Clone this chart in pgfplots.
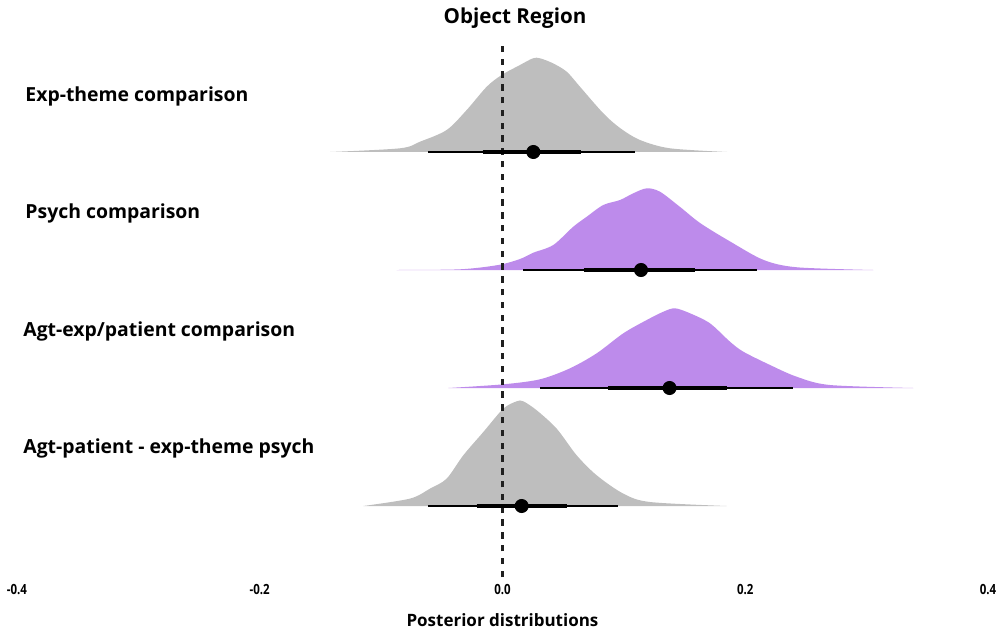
\documentclass[border=0pt]{standalone}
\usepackage{fontspec}
\setmainfont{Open Sans}
\newfontfamily\condfont[FakeStretch=0.82]{Open Sans}
\usepackage{pgfplots}
\pgfplotsset{compat=1.18}
\usepackage{pgfplotstable}

\definecolor{slabgray}{HTML}{BEBEBE}
\definecolor{slabpurple}{HTML}{BD8BEB}

% posterior density slabs: x = effect, h = slab height above its row baseline
\pgfplotstableread{
x h
-0.1420 0
-0.0844 3.7
-0.0680 10.3
-0.0460 22
-0.0295 42
-0.0130 65.3
-0.0007 77
0.0144 87
0.0251 93.7
0.0309 93.7
0.0416 88.7
0.0529 80.3
0.0638 65.3
0.0828 39
0.0968 24
0.1133 12
0.1380 3.7
0.1850 0
}\expTheme

\pgfplotstableread{
x h
-0.0872 0
-0.0350 0.7
-0.0035 5
0.0144 11
0.0254 17.3
0.0418 25
0.0583 43.3
0.0694 53.3
0.0830 65
0.0968 70
0.1077 76.7
0.1188 81.7
0.1297 78.3
0.1460 63.3
0.1631 46.7
0.1878 28.3
0.2152 10
0.2427 2.7
0.3054 0
}\psych

\pgfplotstableread{
x h
-0.0446 0
0.0007 3.7
0.0309 8.7
0.0556 19.7
0.0776 34.7
0.0995 54.7
0.1188 68
0.1325 76.3
0.1421 79.7
0.1545 74.7
0.1709 64.7
0.1874 46.3
0.1984 36.3
0.2204 23
0.2423 11.3
0.2697 3
0.3384 0
}\agtExp

\pgfplotstableread{
x h
-0.1147 0
-0.0762 7.4
-0.0597 17.4
-0.0460 27.4
-0.0323 50.7
-0.0158 74
0.0007 97.4
0.0117 104.7
0.0171 104.7
0.0282 95.7
0.0446 77.4
0.0611 50.7
0.0776 30.7
0.0995 12.4
0.1215 4
0.1847 0
}\agtPatient

\begin{document}
\begin{tikzpicture}
\begin{axis}[
  scale only axis,
  width=485.6pt, height=268.5pt,
  xmin=-0.4, xmax=0.4,
  ymin=56, ymax=593,
  clip=false,
  axis line style={draw=none},
  major tick length=0pt,
  ytick=\empty,
  xtick={-0.4,-0.2,0,0.2,0.4},
  xticklabels={-0.4,-0.2,0.0,0.2,0.4},
  xticklabel style={font=\condfont\bfseries\fontsize{7}{8}\selectfont, anchor=center, yshift=-6.5pt},
  xlabel={Posterior distributions},
  xlabel style={font=\bfseries\fontsize{8.5}{10}\selectfont, at={(axis description cs:0.5,-0.080)}, anchor=center},
]
% corners of the figure frame
\coordinate (frameSW) at (axis cs:-0.41392,0);
\coordinate (frameNE) at (axis cs:0.40898,633);

% density slabs
\addplot[fill=slabgray, draw=none, smooth, tension=0.5] table[x=x, y expr=\thisrow{h}+481] {\expTheme} -- cycle;
\addplot[fill=slabpurple, draw=none, smooth, tension=0.5] table[x=x, y expr=\thisrow{h}+363] {\psych} -- cycle;
\addplot[fill=slabpurple, draw=none, smooth, tension=0.5] table[x=x, y expr=\thisrow{h}+245] {\agtExp} -- cycle;
\addplot[fill=slabgray, draw=none, smooth, tension=0.5] table[x=x, y expr=\thisrow{h}+127] {\agtPatient} -- cycle;

% reference line at zero
\draw[black!88, line width=1.1pt, dash pattern=on 3.2pt off 3.2pt] (axis cs:0,56) -- (axis cs:0,593);

% 95% intervals
\addplot[black, line width=1pt] coordinates {(-0.0611,481) (0.1091,481)};
\addplot[black, line width=1pt] coordinates {(0.0171,363) (0.2094,363)};
\addplot[black, line width=1pt] coordinates {(0.0309,245) (0.2395,245)};
\addplot[black, line width=1pt] coordinates {(-0.0611,127) (0.0954,127)};
% 66% intervals
\addplot[black, line width=2.4pt] coordinates {(-0.0163,481) (0.0647,481)};
\addplot[black, line width=2.4pt] coordinates {(0.0671,363) (0.1586,363)};
\addplot[black, line width=2.4pt] coordinates {(0.0867,245) (0.1847,245)};
\addplot[black, line width=2.4pt] coordinates {(-0.0213,127) (0.0529,127)};
% medians
\addplot[only marks, mark=*, mark size=3.3pt, black] coordinates {(0.0254,481) (0.1141,363) (0.1376,245) (0.0158,127)};

% row labels and title
\tikzset{rowlab/.style={anchor=base west, inner sep=0pt, font=\bfseries\fontsize{9.7}{12}\selectfont}}
\node[rowlab] at (axis cs:-0.3933,531) {Exp-theme comparison};
\node[rowlab] at (axis cs:-0.3933,414) {Psych comparison};
\node[rowlab] at (axis cs:-0.3950,297) {Agt-exp/patient comparison};
\node[rowlab] at (axis cs:-0.3950,180) {Agt-patient - exp-theme psych};
\node[anchor=center, font=\bfseries\fontsize{10.3}{12}\selectfont] at (axis cs:0.0103,615) {Object Region};
\end{axis}
\pgfresetboundingbox
\path[use as bounding box] (frameSW) rectangle (frameNE);
\end{tikzpicture}
\end{document}
